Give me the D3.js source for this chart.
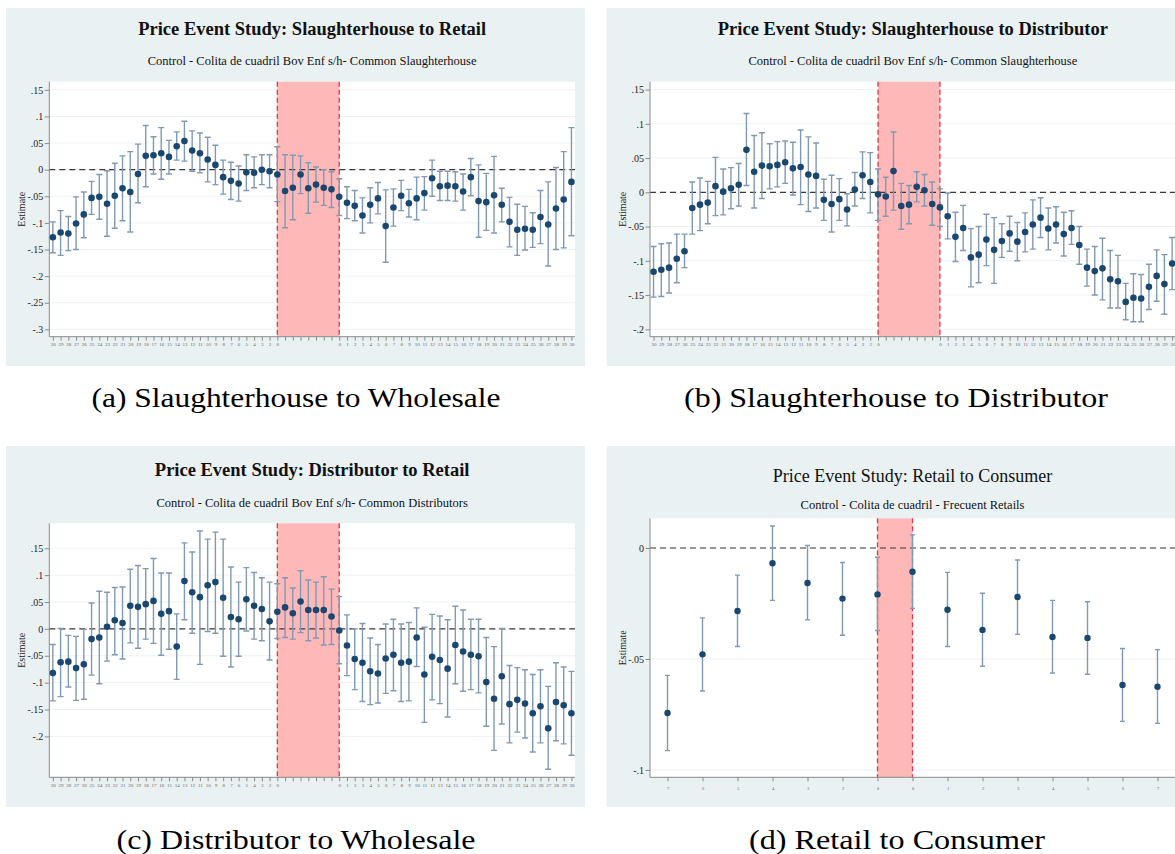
<!DOCTYPE html>
<html>
<head>
<meta charset="utf-8">
<script src="https://cdn.jsdelivr.net/npm/d3@7"></script>
<style>
  body { margin: 0; background: #fff; overflow: hidden; }
  text { font-family: "Liberation Serif", "Times New Roman", serif; }
</style>
</head>
<body>
<svg id="fig" width="1175" height="854"></svg>
<script>
// ---- data ----

// x labels shared by panels a, b, c (blank ticks inside the shaded window)
var eventLabels = ["30","29","28","27","26","25","24","23","22","21","20","19","18","17","16","15","14","13","12","11","10","9","8","7","6","5","4","3","2","0",
  "","","","","","","",
  "0","1","2","3","4","5","6","7","8","9","10","11","12","13","14","15","16","17","18","19","20","21","22","23","24","25","26","27","28","29","30"];
var retailLabels = ["7","6","5","4","3","2","0","0","1","2","3","4","5","6","7"];

var ticksA = [0.15, 0.1, 0.05, 0, -0.05, -0.1, -0.15, -0.2, -0.25, -0.3];
var ticksB = [0.15, 0.1, 0.05, 0, -0.05, -0.1, -0.15, -0.2];
var ticksC = [0.15, 0.1, 0.05, 0, -0.05, -0.1, -0.15, -0.2];
var ticksD = [0, -0.05, -0.1];

// (a) Slaughterhouse to Wholesale
var estA = [-0.127,-0.118,-0.120,-0.101,-0.084,-0.053,-0.051,-0.064,-0.049,-0.035,
  -0.042,-0.008,0.026,0.027,0.031,0.024,0.044,0.054,0.036,0.031,
  0.019,0.009,-0.014,-0.021,-0.026,-0.005,-0.006,0.000,-0.003,-0.009,
  -0.040,-0.034,-0.009,-0.035,-0.028,-0.034,-0.037,-0.051,-0.062,-0.068,
  -0.086,-0.066,-0.054,-0.106,-0.071,-0.049,-0.063,-0.054,-0.044,-0.016,
  -0.031,-0.030,-0.031,-0.041,-0.014,-0.059,-0.061,-0.048,-0.066,-0.098,
  -0.113,-0.111,-0.113,-0.089,-0.103,-0.073,-0.056,-0.023];
var hiA = [-0.098,-0.077,-0.088,-0.051,-0.042,-0.022,-0.009,-0.002,0.012,0.026,
  0.034,0.048,0.083,0.062,0.079,0.055,0.071,0.091,0.073,0.069,
  0.061,0.046,0.018,0.014,0.007,0.028,0.024,0.028,0.028,0.043,
  0.028,0.027,0.026,0.013,0.005,0.000,-0.004,-0.017,-0.032,-0.039,
  -0.053,-0.034,-0.024,-0.038,-0.036,-0.020,-0.037,-0.014,-0.013,0.018,
  -0.003,-0.003,-0.004,-0.008,0.021,0.009,-0.007,0.025,-0.035,-0.052,
  -0.065,-0.069,-0.081,-0.039,-0.023,0.004,0.034,0.079];
var loA = [-0.156,-0.161,-0.152,-0.150,-0.128,-0.084,-0.093,-0.125,-0.110,-0.096,
  -0.117,-0.062,-0.032,-0.008,-0.018,-0.008,0.018,0.016,-0.003,-0.006,
  -0.023,-0.028,-0.046,-0.056,-0.059,-0.039,-0.034,-0.028,-0.034,-0.060,
  -0.109,-0.094,-0.045,-0.082,-0.061,-0.067,-0.071,-0.086,-0.092,-0.096,
  -0.119,-0.100,-0.083,-0.174,-0.106,-0.077,-0.089,-0.094,-0.076,-0.050,
  -0.058,-0.058,-0.059,-0.076,-0.049,-0.127,-0.114,-0.119,-0.098,-0.145,
  -0.161,-0.151,-0.146,-0.139,-0.181,-0.150,-0.147,-0.124];

// (b) Slaughterhouse to Distributor
var estB = [-0.116,-0.113,-0.110,-0.097,-0.086,-0.023,-0.018,-0.015,0.009,0.001,
  0.006,0.011,0.062,0.030,0.039,0.038,0.040,0.044,0.035,0.037,
  0.026,0.024,-0.011,-0.017,-0.010,-0.025,0.004,0.025,0.015,-0.003,
  -0.006,0.031,-0.020,-0.018,0.008,0.003,-0.017,-0.022,-0.035,-0.065,
  -0.052,-0.095,-0.091,-0.069,-0.084,-0.071,-0.060,-0.072,-0.058,-0.047,
  -0.037,-0.053,-0.047,-0.061,-0.052,-0.077,-0.110,-0.115,-0.111,-0.127,
  -0.130,-0.160,-0.154,-0.155,-0.138,-0.122,-0.134,-0.104];
var hiB = [-0.079,-0.075,-0.074,-0.061,-0.061,0.015,0.021,0.016,0.051,0.034,
  0.036,0.042,0.115,0.083,0.087,0.071,0.074,0.075,0.073,0.091,
  0.081,0.072,0.019,0.025,0.020,-0.002,0.029,0.059,0.058,0.034,
  0.022,0.088,0.013,0.010,0.030,0.026,0.015,0.005,-0.001,-0.029,
  -0.019,-0.053,-0.050,-0.032,-0.037,-0.046,-0.035,-0.044,-0.030,-0.011,
  -0.008,-0.023,-0.021,-0.029,-0.027,-0.050,-0.083,-0.079,-0.067,-0.085,
  -0.092,-0.133,-0.119,-0.120,-0.105,-0.084,-0.091,-0.066];
var loB = [-0.153,-0.152,-0.147,-0.132,-0.110,-0.061,-0.056,-0.046,-0.034,-0.033,
  -0.024,-0.020,0.010,-0.023,-0.009,0.005,0.008,0.013,-0.004,-0.018,
  -0.028,-0.023,-0.041,-0.058,-0.041,-0.049,-0.020,-0.009,-0.030,-0.041,
  -0.035,-0.026,-0.054,-0.046,-0.014,-0.020,-0.048,-0.050,-0.068,-0.101,
  -0.085,-0.138,-0.132,-0.107,-0.133,-0.095,-0.086,-0.100,-0.087,-0.083,
  -0.066,-0.084,-0.074,-0.093,-0.076,-0.105,-0.137,-0.150,-0.157,-0.169,
  -0.169,-0.186,-0.189,-0.189,-0.171,-0.159,-0.178,-0.142];

// (c) Distributor to Wholesale
var estC = [-0.082,-0.062,-0.061,-0.073,-0.066,-0.019,-0.016,0.004,0.016,0.011,
  0.043,0.041,0.046,0.052,0.028,0.033,-0.033,0.089,0.068,0.059,
  0.081,0.087,0.058,0.022,0.018,0.055,0.043,0.037,0.014,0.032,
  0.040,0.029,0.051,0.035,0.035,0.035,0.023,-0.003,-0.031,-0.056,
  -0.063,-0.079,-0.083,-0.055,-0.048,-0.063,-0.061,-0.016,-0.085,-0.052,
  -0.058,-0.074,-0.030,-0.042,-0.048,-0.051,-0.099,-0.130,-0.088,-0.140,
  -0.132,-0.139,-0.157,-0.144,-0.185,-0.136,-0.142,-0.157];
var hiC = [-0.029,0.001,-0.012,-0.014,-0.001,0.048,0.070,0.068,0.077,0.078,
  0.111,0.118,0.112,0.131,0.104,0.104,0.028,0.160,0.143,0.182,
  0.167,0.180,0.167,0.115,0.087,0.114,0.105,0.095,0.087,0.084,
  0.095,0.076,0.108,0.091,0.087,0.097,0.074,0.060,0.026,0.000,
  0.010,-0.017,-0.029,0.009,0.018,0.009,0.012,0.039,0.003,0.027,
  0.024,0.017,0.042,0.035,0.018,0.018,-0.016,-0.033,0.001,-0.068,
  -0.072,-0.076,-0.085,-0.076,-0.107,-0.063,-0.071,-0.079];
var loC = [-0.134,-0.126,-0.108,-0.133,-0.131,-0.086,-0.102,-0.060,-0.048,-0.056,
  -0.026,-0.036,-0.019,-0.027,-0.049,-0.038,-0.094,0.017,-0.008,-0.066,
  -0.005,-0.008,-0.051,-0.071,-0.051,-0.004,-0.019,-0.022,-0.058,-0.018,
  -0.016,-0.019,-0.007,-0.022,-0.017,-0.030,-0.029,-0.065,-0.087,-0.113,
  -0.135,-0.141,-0.138,-0.120,-0.115,-0.135,-0.134,-0.070,-0.174,-0.132,
  -0.139,-0.164,-0.102,-0.116,-0.113,-0.119,-0.181,-0.226,-0.177,-0.212,
  -0.192,-0.203,-0.229,-0.212,-0.261,-0.208,-0.214,-0.235];

// (d) Retail to Consumer
var estD = [-0.0743,-0.0479,-0.0284,-0.0069,-0.0158,-0.0228,-0.0209,-0.0107,-0.0278,-0.0369,-0.0221,-0.0401,-0.0405,-0.0617,-0.0625];
var hiD = [-0.0574,-0.0315,-0.0122,0.0099,0.0011,-0.0065,-0.0042,0.0059,-0.0110,-0.0204,-0.0054,-0.0236,-0.0242,-0.0453,-0.0458];
var loD = [-0.0913,-0.0644,-0.0444,-0.0236,-0.0324,-0.0393,-0.0372,-0.0272,-0.0444,-0.0533,-0.0389,-0.0563,-0.0569,-0.0781,-0.0790];

// ---- layout ----
var panels = [
  { title: "Price Event Study: Slaughterhouse to Retail", bold: true, titleSize: 18.5,
    subtitle: "Control - Colita de cuadril Bov Enf s/h- Common Slaughterhouse",
    caption: "(a) Slaughterhouse to Wholesale", capLen: 409,
    labels: eventLabels, est: estA, lo: loA, hi: hiA, ticks: ticksA, win: [29, 37],
    box: [6, 8, 579, 358], plot: [49.3, 575, 81.7, 336.7], yDom: [0.1653, -0.3138],
    titleY: 34.5, subY: 65, capX: 296, capY: 406.7, pad: 0.46, xFont: 5, xPad: 2, capW: 6, r: 3.3 },
  { title: "Price Event Study: Slaughterhouse to Distributor", bold: true, titleSize: 18.5,
    subtitle: "Control - Colita de cuadril Bov Enf s/h- Common Slaughterhouse",
    caption: "(b) Slaughterhouse to Distributor", capLen: 424,
    labels: eventLabels, est: estB, lo: loB, hi: hiB, ticks: ticksB, win: [29, 37],
    box: [606.7, 8, 600, 358], plot: [650, 1175.7, 81.7, 336.7], yDom: [0.1615, -0.2108],
    titleY: 34.5, subY: 65, capX: 896, capY: 406.7, pad: 0.46, xFont: 5, xPad: 2, capW: 6, r: 3.3 },
  { title: "Price Event Study: Distributor to Retail", bold: true, titleSize: 18.5,
    subtitle: "Control - Colita de cuadril Bov Enf s/h- Common Distributors",
    caption: "(c) Distributor to Wholesale", capLen: 359,
    labels: eventLabels, est: estC, lo: loC, hi: hiC, ticks: ticksC, win: [29, 37],
    box: [6, 446, 579, 361], plot: [49.3, 575, 523.3, 777.3], yDom: [0.1964, -0.2761],
    titleY: 475.5, subY: 506.5, capX: 296, capY: 848.7, pad: 0.46, xFont: 5, xPad: 2, capW: 6, r: 3.3 },
  { title: "Price Event Study: Retail to Consumer", bold: false, titleSize: 18,
    subtitle: "Control - Colita de cuadril - Frecuent Retails",
    caption: "(d) Retail to Consumer", capLen: 296,
    labels: retailLabels, est: estD, lo: loD, hi: hiD, ticks: ticksD, win: [6, 7],
    box: [606.7, 446, 600, 361], plot: [650, 1175, 518.3, 777.3], yDom: [0.01338, -0.1033],
    titleY: 482.3, subY: 509, capX: 897, capY: 848.7, pad: 0.5, xFont: 4.5, xPad: 6, capW: 5, r: 3.2 }
];

var serif = "'Liberation Serif', 'Times New Roman', 'DejaVu Serif', serif";

var svg = d3.select("#fig");
svg.append("rect").attr("width", 1175).attr("height", 854).attr("fill", "#fff");

function fmtTick(v) {
  if (v === 0) return "0";
  return String(+v.toFixed(2)).replace("0.", ".");
}

panels.forEach(function(p) {
  var g = svg.append("g");
  var x0 = p.plot[0], x1 = p.plot[1], y0 = p.plot[2], y1 = p.plot[3];

  var x = d3.scalePoint()
    .domain(d3.range(p.labels.length))
    .range([x0, x1])
    .padding(p.pad);
  var y = d3.scaleLinear().domain(p.yDom).range([y0, y1]);

  // panel background + plot region
  g.append("rect")
    .attr("x", p.box[0]).attr("y", p.box[1])
    .attr("width", p.box[2]).attr("height", p.box[3])
    .attr("fill", "#eaf1f3");
  g.append("rect")
    .attr("x", x0).attr("y", y0)
    .attr("width", x1 - x0).attr("height", y1 - y0)
    .attr("fill", "#fff");

  // gridlines
  g.selectAll(".grid")
    .data(p.ticks)
    .enter().append("line")
    .attr("x1", x0).attr("x2", x1)
    .attr("y1", function(d) { return y(d); })
    .attr("y2", function(d) { return y(d); })
    .attr("stroke", "#edf2f4").attr("stroke-width", 1);

  // shaded event window
  var wx0 = x(p.win[0]), wx1 = x(p.win[1]);
  g.append("rect")
    .attr("x", wx0).attr("y", y0)
    .attr("width", wx1 - wx0).attr("height", y1 - y0)
    .attr("fill", "#ffb8b8");
  g.selectAll(".win")
    .data([wx0, wx1])
    .enter().append("line")
    .attr("x1", function(d) { return d; }).attr("x2", function(d) { return d; })
    .attr("y1", y0).attr("y2", y1)
    .attr("stroke", "#e2344c").attr("stroke-width", 1.3)
    .attr("stroke-dasharray", "5,3");

  // zero reference line
  g.append("line")
    .attr("x1", x0).attr("x2", x1)
    .attr("y1", y(0)).attr("y2", y(0))
    .attr("stroke", "#3a3a3a").attr("stroke-width", 1.2)
    .attr("stroke-dasharray", "6,4");

  // axes
  var yAxis = g.append("g")
    .attr("transform", "translate(" + x0 + ",0)")
    .call(d3.axisLeft(y).tickValues(p.ticks).tickFormat(fmtTick).tickSize(4.5).tickPadding(1.5));
  yAxis.select(".domain").attr("d", "M0," + y0 + "V" + y1).attr("stroke", "#8a8a8a");
  yAxis.selectAll(".tick line").attr("stroke", "#8a8a8a");
  yAxis.selectAll(".tick text")
    .attr("fill", "#222")
    .style("font-size", "10px")
    .style("font-family", serif);

  var xAxis = g.append("g")
    .attr("transform", "translate(0," + y1 + ")")
    .call(d3.axisBottom(x).tickFormat(function(i) { return p.labels[i]; }).tickSize(4).tickPadding(p.xPad));
  xAxis.select(".domain").attr("d", "M" + x0 + ",0H" + x1).attr("stroke", "#8a8a8a");
  xAxis.selectAll(".tick line").attr("stroke", "#8a8a8a");
  xAxis.selectAll(".tick text")
    .attr("fill", "#666")
    .style("font-size", p.xFont + "px")
    .style("font-family", serif);

  g.append("text")
    .attr("transform", "translate(" + (x0 - 24.5) + "," + ((y0 + y1) / 2) + ") rotate(-90)")
    .attr("text-anchor", "middle")
    .attr("fill", "#222")
    .style("font-size", "10px")
    .style("font-family", serif)
    .text("Estimate");

  // confidence intervals
  var idx = d3.range(p.est.length);
  var bars = g.append("g").attr("stroke", "#8199b2").attr("stroke-width", 1.4).attr("fill", "none");
  bars.selectAll(".ci")
    .data(idx)
    .enter().append("path")
    .attr("d", function(i) {
      var cx = x(i), a = y(p.hi[i]), b = y(p.lo[i]), w = p.capW / 2;
      return "M" + (cx - w) + "," + a + "H" + (cx + w) +
             "M" + cx + "," + a + "V" + b +
             "M" + (cx - w) + "," + b + "H" + (cx + w);
    });

  // point estimates
  g.selectAll(".pt")
    .data(idx)
    .enter().append("circle")
    .attr("cx", function(i) { return x(i); })
    .attr("cy", function(i) { return y(p.est[i]); })
    .attr("r", p.r)
    .attr("fill", "#1a476f");

  // titles, centred on the plot region
  var cx = (x0 + x1) / 2;
  g.append("text")
    .attr("x", cx).attr("y", p.titleY)
    .attr("text-anchor", "middle")
    .attr("fill", "#111")
    .style("font-size", p.titleSize + "px")
    .style("font-weight", p.bold ? "bold" : "normal")
    .style("font-family", serif)
    .text(p.title);
  g.append("text")
    .attr("x", cx).attr("y", p.subY)
    .attr("text-anchor", "middle")
    .attr("fill", "#111")
    .style("font-size", "12.5px")
    .style("font-family", serif)
    .text(p.subtitle);

  // sub-figure caption
  svg.append("text")
    .attr("x", p.capX).attr("y", p.capY)
    .attr("text-anchor", "middle")
    .attr("textLength", p.capLen)
    .attr("lengthAdjust", "spacingAndGlyphs")
    .attr("fill", "#000")
    .style("font-size", "27px")
    .style("font-family", serif)
    .text(p.caption);
});
</script>
</body>
</html>
